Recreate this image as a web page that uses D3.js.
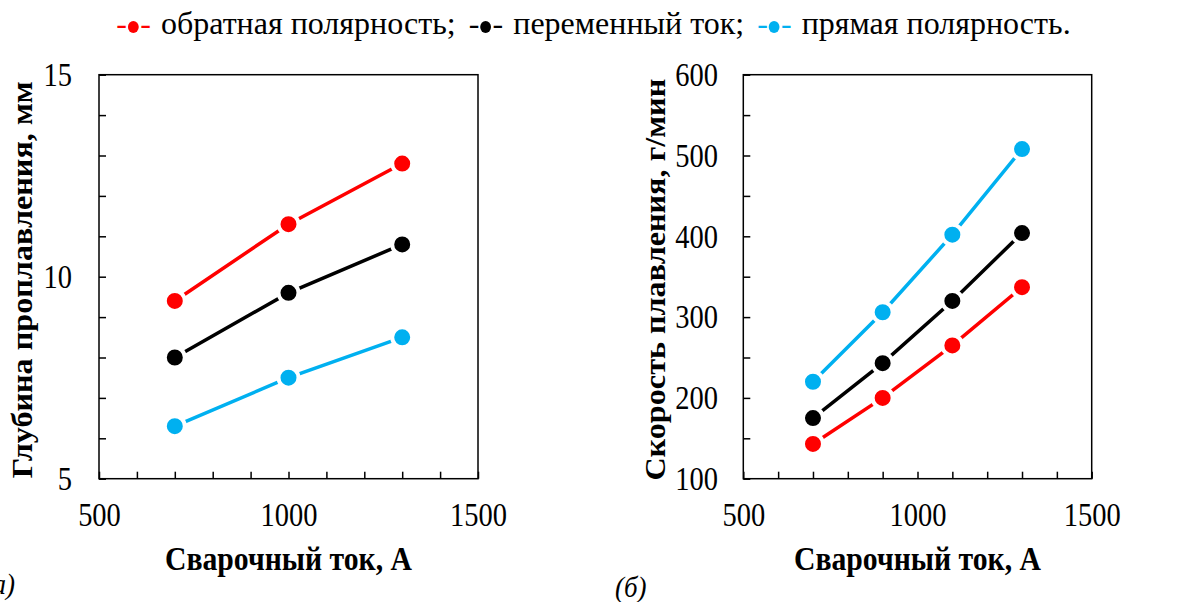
<!DOCTYPE html>
<html><head><meta charset="utf-8">
<script src="https://cdn.jsdelivr.net/npm/d3@7"></script>
<style>
html,body{margin:0;padding:0;background:#fff;}
svg{display:block;}
text{font-family:"Liberation Serif","Times New Roman",serif;}
</style></head>
<body>
<svg id="c" width="1185" height="602"></svg>
<script>
// ---- data ----
const seriesNames = ["обратная полярность;", "переменный ток;", "прямая полярность."];
const seriesColors = ["#FF0000", "#000000", "#00B0F0"];
const currentA = [700, 1000, 1300];
const depthReverse = [9.4, 11.3, 12.8];
const depthAC = [8.0, 9.6, 10.8];
const depthStraight = [6.3, 7.5, 8.5];
const currentB = [700, 900, 1100, 1300];
const rateReverse = [143, 200, 265, 337];
const rateAC = [175, 243, 320, 404];
const rateStraight = [220, 306, 402, 508];
const xTickLabels = [500, 1000, 1500];
const yTickLabelsA = [5, 10, 15];
const yTickLabelsB = [100, 200, 300, 400, 500, 600];
const xTitle = "Сварочный ток, А";
const yTitleA = "Глубина проплавления, мм";
const yTitleB = "Скорость плавления, г/мин";

const S = 1.15; // vertical stretch of tick text
const svg = d3.select("#c");

function panel(opts){
  const {x0,x1,y0,y1,xDomain,yDomain,yMinor,yLabels,xs,ys,title,labelRight} = opts;
  const x = d3.scaleLinear().domain(xDomain).range([x0,x1]);
  const y = d3.scaleLinear().domain(yDomain).range([y1,y0]);
  const g = svg.append("g");
  g.append("rect").attr("x",x0).attr("y",y0).attr("width",x1-x0).attr("height",y1-y0)
    .attr("fill","none").attr("stroke","#000").attr("stroke-width",1.5);
  const xMinor = d3.range(xDomain[0], xDomain[1]+1, 100);
  const ax = g.append("g").attr("transform",`translate(0,${y1})`)
    .call(d3.axisBottom(x).tickValues(xMinor).tickSize(-7).tickFormat(""));
  ax.select(".domain").remove();
  ax.selectAll("line").attr("stroke-width",1.5);
  const yMinorVals = d3.range(yDomain[0], yDomain[1]+0.001, yMinor);
  const ay = g.append("g").attr("transform",`translate(${x0},0)`)
    .call(d3.axisLeft(y).tickValues(yMinorVals).tickSize(-7).tickFormat(""));
  ay.select(".domain").remove();
  ay.selectAll("line").attr("stroke-width",1.5);
  const lx = g.append("g").attr("transform",`translate(0,${y1})`)
    .call(d3.axisBottom(x).tickValues(xTickLabels).tickSize(0).tickFormat(d3.format("d")));
  lx.select(".domain").remove();
  lx.selectAll("text").attr("font-size",28.5).attr("font-family","Liberation Serif").attr("fill","#000")
    .attr("dy",null).attr("y",47/S).attr("transform",`scale(1,${S})`);
  const ly = g.append("g").attr("transform",`translate(${x0},0)`)
    .call(d3.axisLeft(y).tickValues(yLabels).tickSize(0).tickFormat(d3.format("d")));
  ly.select(".domain").remove();
  ly.selectAll("text").attr("font-size",28.5).attr("font-family","Liberation Serif").attr("fill","#000")
    .attr("x",-(x0-labelRight)).attr("dy","0.33em").attr("transform",`scale(1,${S})`);
  g.append("text").attr("transform",`translate(${(x0+x1)/2},570) scale(1,1.1)`)
    .attr("text-anchor","middle").attr("font-size",29.7).attr("font-weight","bold").text(xTitle);
  g.append("text").attr("transform",`translate(${opts.titleX},${(y0+y1)/2+3}) scale(1,1.084) rotate(-90)`)
    .attr("text-anchor","middle").attr("font-size",29.7).attr("font-weight","bold").text(title);
  const line = d3.line().x((d,i)=>x(xs[i])).y(d=>y(d));
  ys.forEach((vals,k)=>{
    g.append("path").datum(vals).attr("d",line).attr("fill","none")
      .attr("stroke",seriesColors[k]).attr("stroke-width",3.5);
    g.selectAll(null).data(vals).enter().append("circle")
      .attr("cx",(d,i)=>x(xs[i])).attr("cy",d=>y(d)).attr("r",10)
      .attr("fill",seriesColors[k]).attr("stroke","#fff").attr("stroke-width",4);
  });
}

panel({x0:99,x1:478,y0:74.7,y1:478.7,xDomain:[500,1500],yDomain:[5,15],yMinor:1,
  yLabels:yTickLabelsA,xs:currentA,ys:[depthReverse,depthAC,depthStraight],title:yTitleA,
  labelRight:72,titleX:32});
panel({x0:743.3,x1:1091.7,y0:74.7,y1:478.7,xDomain:[500,1500],yDomain:[100,600],yMinor:50,
  yLabels:yTickLabelsB,xs:currentB,ys:[rateReverse,rateAC,rateStraight],title:yTitleB,
  labelRight:718,titleX:665});

// panel letters
svg.append("text").attr("transform",`translate(15,594) scale(1,1.1)`).attr("text-anchor","end")
  .attr("font-size",27).attr("font-style","italic").text("(а)");
svg.append("text").attr("transform",`translate(615,597) scale(1,1.1)`)
  .attr("font-size",27).attr("font-style","italic").text("(б)");

// legend
const lg = svg.append("g");
let cur = 0;
const base = 34, fs = 32;
function addText(str,color){
  const t = lg.append("text").attr("transform",`translate(${cur},${base})`)
    .attr("font-size",fs).attr("fill",color).style("white-space","pre").text(str);
  cur += t.node().getComputedTextLength();
  return t;
}
seriesNames.forEach((name,k)=>{
  addText("-",seriesColors[k]);
  lg.append("ellipse").attr("cx",cur+6.3).attr("cy",27).attr("rx",5.4).attr("ry",6).attr("fill",seriesColors[k]);
  cur += 13.3;
  addText("-",seriesColors[k]);
  cur += 10;
  addText(name,"#000");
  cur += 13;
});
cur -= 13;
const lstart = 115, lend = 1072;
lg.attr("transform",`translate(${(lstart+lend)/2 - cur/2},0)`);
</script>
</body></html>
